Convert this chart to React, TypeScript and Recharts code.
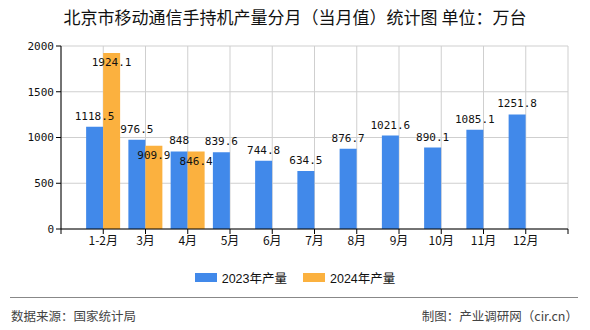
import { BarChart, Bar, XAxis, YAxis, CartesianGrid, LabelList } from "recharts";

const months = ["1-2月", "3月", "4月", "5月", "6月", "7月", "8月", "9月", "10月", "11月", "12月"];
const output2023 = [1118.5, 976.5, 848, 839.6, 744.8, 634.5, 876.7, 1021.6, 890.1, 1085.1, 1251.8];
const output2024: (number | null)[] = [1924.1, 909.9, 846.4, null, null, null, null, null, null, null, null];
const yTicks = [0, 500, 1000, 1500, 2000];
const xTicks = [0, 1, 2, 3, 4, 5, 6, 7, 8, 9, 10, 11, 12];

const BLUE = "#4189ea";
const ORANGE = "#fbb13f";
const CJK = '"Noto Sans CJK SC", "Liberation Sans", sans-serif';
const MONO = '"DejaVu Sans Mono", monospace';

const data = months.map((m, i) => ({
  pos: i + 1,
  month: m,
  y2023: output2023[i],
  y2024: output2024[i],
}));

function ValueLabel(props: any) {
  const { x, y, width, value, inside } = props;
  if (value === null || value === undefined) return null;
  const cx = x + width / 2;
  return (
    <text x={cx} y={inside ? y + 13 : y - 7} textAnchor="middle"
      fontSize={11} fontFamily={MONO} fill="#111">
      {value}
    </text>
  );
}

export default function App() {
  return (
    <div style={{ position: "absolute", left: 0, top: 0, width: 590, height: 330, background: "#fff", fontFamily: CJK }}>
      <div style={{ position: "absolute", top: 6, left: 0, width: 590, textAlign: "center", fontSize: 17, color: "#111", lineHeight: "22px" }}>
        北京市移动通信手持机产量分月（当月值）统计图 单位：万台
      </div>
      <div style={{ position: "absolute", top: 0, left: 0 }}>
        <BarChart width={590} height={260} data={data}
          margin={{ top: 46, right: 22, left: 0, bottom: 0 }} barGap={0}>
          <CartesianGrid stroke="#cfcfcf" />
          <XAxis type="number" dataKey="pos" domain={[0, 12]} ticks={xTicks} interval={0}
            tickFormatter={(v: number) => months[v - 1] ?? ""}
            axisLine={{ stroke: "#000" }} tickLine={{ stroke: "#000" }} tickSize={5} height={31}
            tick={{ fill: "#111", fontSize: 12, fontFamily: CJK }} />
          <YAxis domain={[0, 2000]} ticks={yTicks} width={61}
            axisLine={{ stroke: "#000" }} tickLine={{ stroke: "#000" }} tickSize={5}
            tick={{ fill: "#111", fontSize: 11, fontFamily: MONO }} />
          <Bar dataKey="y2023" fill={BLUE} barSize={17} isAnimationActive={false}>
            <LabelList dataKey="y2023" content={(p: any) => <ValueLabel {...p} />} />
          </Bar>
          <Bar dataKey="y2024" fill={ORANGE} barSize={17} isAnimationActive={false}>
            <LabelList dataKey="y2024" content={(p: any) => <ValueLabel {...p} inside />} />
          </Bar>
        </BarChart>
      </div>
      <div style={{ position: "absolute", top: 268, left: 0, width: 590, display: "flex", justifyContent: "center", alignItems: "center", fontSize: 12.5, color: "#111", fontFamily: '"Liberation Sans", ' + CJK }}>
        <span style={{ display: "inline-block", width: 22, height: 9, background: BLUE, marginRight: 5 }} />
        <span style={{ marginRight: 16 }}>2023年产量</span>
        <span style={{ display: "inline-block", width: 22, height: 9, background: ORANGE, marginRight: 5 }} />
        <span>2024年产量</span>
      </div>
      <div style={{ position: "absolute", top: 297, left: 10, width: 568, borderTop: "1.5px solid #888" }} />
      <div style={{ position: "absolute", top: 306, left: 11, fontSize: 12.5, color: "#444" }}>数据来源：国家统计局</div>
      <div style={{ position: "absolute", top: 306, right: 12, fontSize: 12.5, color: "#444" }}>制图：产业调研网（cir.cn）</div>
    </div>
  );
}
